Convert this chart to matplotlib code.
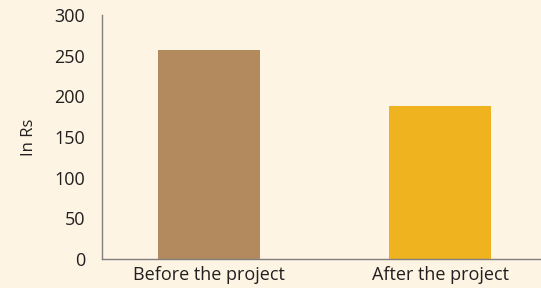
import matplotlib.pyplot as plt

plt.rcParams["font.family"] = ["Open Sans", "DejaVu Sans"]

categories = ["Before the project", "After the project"]
values = [257, 188]
bar_colors = ["#B38A5E", "#F0B320"]
yticks = [0, 50, 100, 150, 200, 250, 300]

BG = "#FDF4E3"
TEXT = "#231F20"
AXIS = "#808080"

fig = plt.figure(figsize=(5.41, 2.88), dpi=100, facecolor=BG)
ax = fig.add_axes([0.1885, 0.1007, 0.8115, 0.847], facecolor=BG)

x = range(len(categories))
ax.bar(x, values, width=0.44, color=bar_colors, zorder=2)

ax.set_xlim(-0.463, 1.437)
ax.set_ylim(0, 300)
ax.set_yticks(yticks)
ax.set_xticks(list(x))
ax.set_xticklabels(categories)
ax.tick_params(axis="both", length=0, labelsize=13, colors=TEXT)
ax.tick_params(axis="y", pad=12)
ax.tick_params(axis="x", pad=5)

for side in ("top", "right"):
    ax.spines[side].set_visible(False)
for side in ("left", "bottom"):
    ax.spines[side].set_color(AXIS)
    ax.spines[side].set_linewidth(1.0)

ax.set_ylabel("In Rs", fontsize=12, color=TEXT, labelpad=13)

fig.savefig("out.png", dpi=100, facecolor=BG)
